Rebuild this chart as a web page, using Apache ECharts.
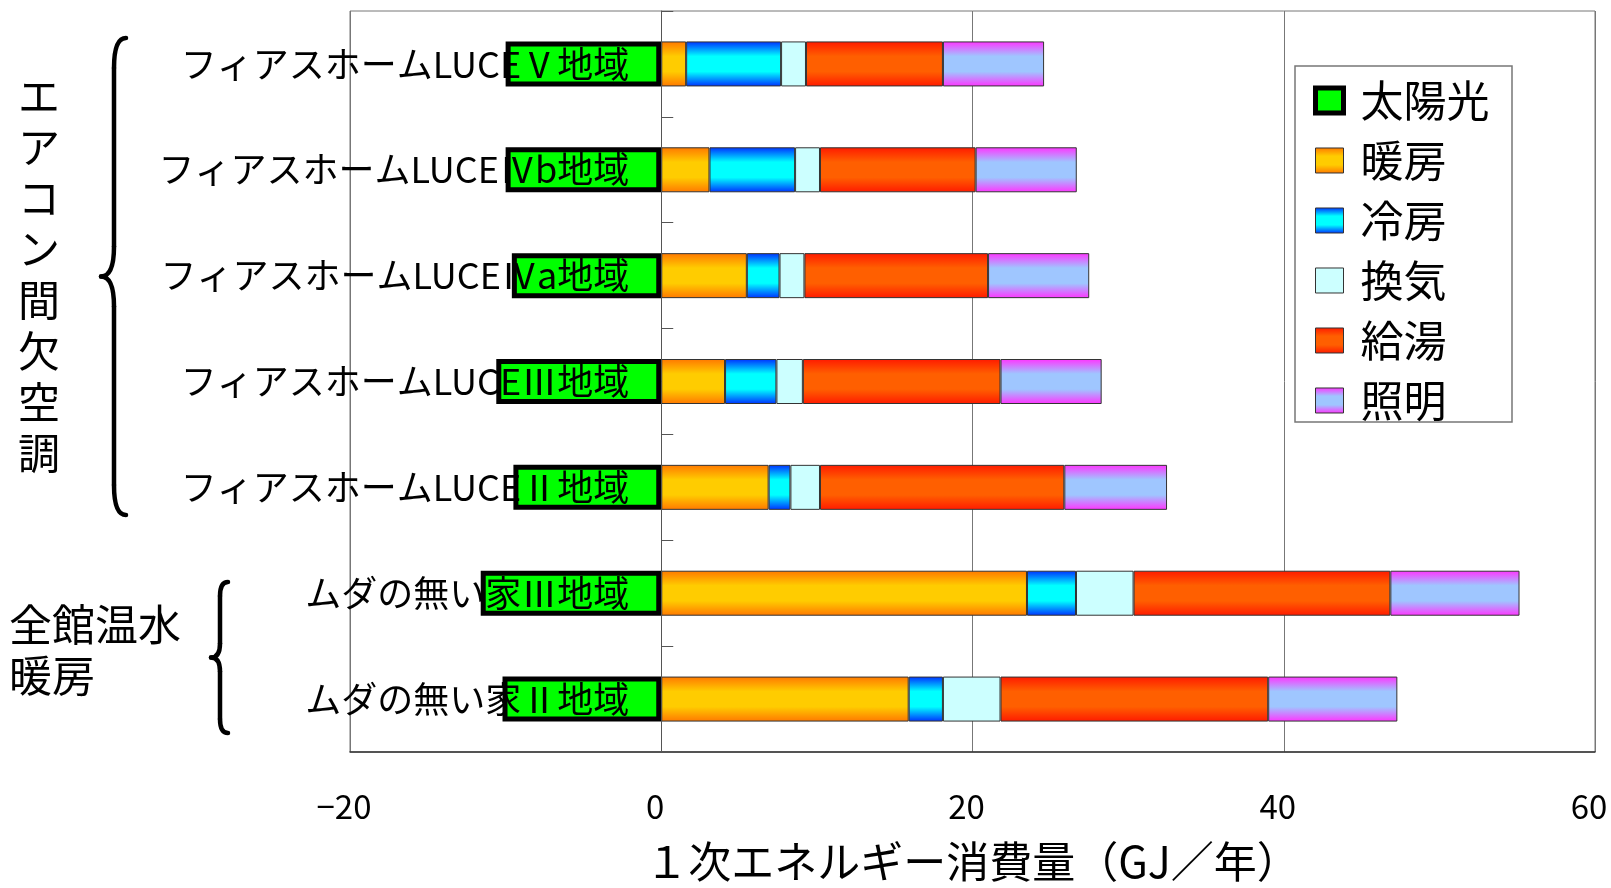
<!DOCTYPE html>
<html>
<head>
<meta charset="utf-8">
<script src="https://cdn.jsdelivr.net/npm/echarts@6/dist/echarts.min.js"></script>
<style>
  html, body { margin: 0; padding: 0; background: #fff; }
  #chart { width: 1611px; height: 888px; }
</style>
</head>
<body>
<div id="chart"></div>
<script>
// Houses (top to bottom) and their yearly primary energy by end use (GJ/year)
const categories = [
  'フィアスホームLUCEⅤ地域',
  'フィアスホームLUCEⅣb地域',
  'フィアスホームLUCEⅣa地域',
  'フィアスホームLUCEⅢ地域',
  'フィアスホームLUCEⅡ地域',
  'ムダの無い家Ⅲ地域',
  'ムダの無い家Ⅱ地域'
];
const seriesNames = ['太陽光', '暖房', '冷房', '換気', '給湯', '照明'];
const solar       = [-10.0, -10.0, -9.6, -10.6, -9.5, -11.6, -10.2];
const heating     = [1.6, 3.1, 5.5, 4.1, 6.9, 23.5, 15.9];
const cooling     = [6.1, 5.5, 2.1, 3.3, 1.4, 3.15, 2.2];
const ventilation = [1.6, 1.6, 1.6, 1.7, 1.9, 3.7, 3.7];
const hotWater    = [8.8, 10.0, 11.8, 12.7, 15.7, 16.5, 17.2];
const lighting    = [6.5, 6.5, 6.5, 6.5, 6.6, 8.3, 8.3];
const axisTitle   = '１次エネルギー消費量（GJ／年）';
const groupLabels = ['エ\nア\nコ\nン\n間\n欠\n空\n調', '全館温水\n暖房'];

const FONT = "'Noto Sans CJK JP', 'Noto Sans', sans-serif";

// vertical banded fill: edge colour at top/bottom, lighter colour through the middle
function band(edge, mid) {
  return {
    type: 'linear', x: 0, y: 0, x2: 0, y2: 1,
    colorStops: [
      { offset: 0, color: edge },
      { offset: 0.33, color: mid },
      { offset: 0.67, color: mid },
      { offset: 1, color: edge }
    ]
  };
}

const fills = [
  '#00FF00',
  band('#FF7800', '#FFCC00'),
  band('#0030FF', '#00FFFF'),
  '#CCFFFF',
  band('#FF1A00', '#FF5F00'),
  band('#FF33FF', '#9FC6FF')
];
const values = [solar, heating, cooling, ventilation, hotWater, lighting];

const series = seriesNames.map((name, i) => ({
  name: name,
  type: 'bar',
  stack: 'total',
  barWidth: 45,
  data: values[i],
  itemStyle: i === 0
    ? { color: fills[i], borderColor: '#000', borderWidth: 5 }
    : { color: fills[i], borderColor: '#333', borderWidth: 1 }
}));

// curly brace opening to the right, built from quadratic curves and straight stems
function brace(xEnd, xStem, xTip, yTop, yBot, r) {
  const ym = (yTop + yBot) / 2;
  const st = { stroke: '#000', lineWidth: 4.5, fill: null, lineCap: 'round' };
  const curve = (x1, y1, cx, cy, x2, y2) => ({
    type: 'bezierCurve', silent: true,
    shape: { x1: x1, y1: y1, cpx1: cx, cpy1: cy, x2: x2, y2: y2 }, style: st
  });
  const seg = (x1, y1, x2, y2) => ({
    type: 'line', silent: true, shape: { x1: x1, y1: y1, x2: x2, y2: y2 }, style: st
  });
  return {
    type: 'group', silent: true,
    children: [
      curve(xEnd, yTop, xStem, yTop, xStem, yTop + r),
      seg(xStem, yTop + r, xStem, ym - r),
      curve(xStem, ym - r, xStem, ym, xTip, ym),
      curve(xTip, ym, xStem, ym, xStem, ym + r),
      seg(xStem, ym + r, xStem, yBot - r),
      curve(xStem, yBot - r, xStem, yBot, xEnd, yBot)
    ]
  };
}

// the category labels sit just left of the zero line, while their margin counts from the grid edge
const GRID_LEFT = 350, GRID_RIGHT = 16, X_MIN = -20, X_MAX = 60;
const zeroOffset = (0 - X_MIN) / (X_MAX - X_MIN) * (1611 - GRID_LEFT - GRID_RIGHT);

const chart = echarts.init(document.getElementById('chart'), null, { renderer: 'canvas' });
chart.setOption({
  backgroundColor: '#fff',
  animation: false,
  textStyle: { fontFamily: FONT },
  grid: {
    left: GRID_LEFT, right: GRID_RIGHT, top: 11, bottom: 136,
    show: true, borderColor: '#777', borderWidth: 1,
    containLabel: false, outerBoundsMode: 'none'
  },
  legend: {
    orient: 'vertical',
    left: 1308, top: 74,
    icon: 'rect',
    itemWidth: 28, itemHeight: 25, itemGap: 17,
    textStyle: { fontSize: 43, color: '#000', fontFamily: FONT, padding: [0, 0, 0, 12], lineHeight: 42 },
    data: seriesNames.map((n, i) => i === 0
      ? { name: n, itemStyle: { borderColor: '#000', borderWidth: 5 } }
      : { name: n, itemStyle: { borderColor: '#333', borderWidth: 1 } })
  },
  xAxis: {
    type: 'value',
    min: X_MIN, max: X_MAX, interval: 20,
    axisLine: { show: true, onZero: false, lineStyle: { color: '#333', width: 1.5 } },
    axisTick: { show: false },
    splitLine: { show: true, lineStyle: { color: '#777', width: 1 } },
    axisLabel: {
      fontSize: 33, color: '#000', margin: 38, padding: [0, 12, 0, 0],
      formatter: v => String(v).replace('-', '−')
    },
    name: axisTitle,
    nameLocation: 'middle',
    nameGap: 88,
    nameTextStyle: { fontSize: 43, color: '#000', fontFamily: FONT }
  },
  yAxis: {
    type: 'category',
    data: categories,
    inverse: true,
    z: 5,
    axisLine: { show: true, onZero: true, lineStyle: { color: '#555', width: 1 } },
    axisTick: { show: true, inside: true, length: 12, lineStyle: { color: '#555' } },
    axisLabel: { fontSize: 36, color: '#000', margin: 32 - zeroOffset, fontFamily: FONT }
  },
  graphic: [
    {
      type: 'rect', silent: true, z: 1,
      shape: { x: 1295, y: 66, width: 217, height: 356 },
      style: { fill: null, stroke: '#777', lineWidth: 1.5 }
    },
    brace(126, 114, 101, 38, 515, 30),
    brace(228, 220, 211, 582, 733, 14),
    {
      type: 'text', silent: true,
      style: {
        text: groupLabels[0], x: 39, y: 71, align: 'center', verticalAlign: 'top',
        fontSize: 42, fontFamily: FONT, lineHeight: 51, fill: '#000'
      }
    },
    {
      type: 'text', silent: true,
      style: {
        text: groupLabels[1], x: 9, y: 599, align: 'left', verticalAlign: 'top',
        fontSize: 43, fontFamily: FONT, lineHeight: 51, fill: '#000'
      }
    }
  ],
  series: series
});
</script>
</body>
</html>
